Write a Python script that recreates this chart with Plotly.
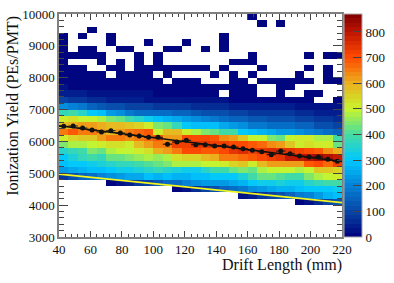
import plotly.graph_objects as go

# Bin layout
bin_width_x = 6
bin_height_y = 200
x_first_centre = 43
y_first_centre = 3100

# Counts per row, listed from the top row (9800-10000) downward; 0 = empty bin
r00 = [0,0,0,0,0,0,0,0,0,0,0,0,0,0,0,0,0,0,0,0,3,0,0,0,0,0,0,0,0,0]
r01 = [0,0,0,0,0,0,0,0,0,0,0,0,0,0,0,0,0,0,0,0,0,3,0,3,0,0,0,0,0,0]
r02 = [0,0,0,3,0,0,0,0,0,0,0,0,0,0,0,0,0,0,0,0,0,0,0,0,0,0,0,0,0,0]
r03 = [3,0,3,0,0,3,0,0,0,0,0,0,0,0,0,0,0,3,0,0,0,0,0,0,0,0,0,0,0,0]
r04 = [3,0,0,0,0,3,0,0,0,3,0,0,0,3,0,0,0,3,0,0,0,0,0,0,0,0,0,0,0,0]
r05 = [3,0,3,3,0,0,3,3,0,0,0,3,3,0,0,3,0,3,0,0,0,0,0,0,0,0,0,0,0,0]
r06 = [3,3,3,3,3,0,0,0,3,0,3,0,0,0,0,0,0,0,0,0,3,0,0,0,0,0,3,0,3,3]
r07 = [3,0,0,0,3,0,3,0,3,0,3,0,0,0,0,0,0,0,3,3,3,0,0,0,0,0,0,0,0,0]
r08 = [3,3,3,0,0,3,3,0,3,3,3,3,3,3,3,3,0,3,0,0,0,3,0,0,0,0,3,0,3,0]
r09 = [5,5,5,4,4,0,4,4,4,4,0,3,0,0,0,0,3,0,3,0,3,0,0,0,0,3,0,0,3,0]
r10 = [8,7,6,6,5,5,5,4,4,4,4,0,3,3,3,0,0,0,3,3,0,3,3,3,3,3,3,0,3,3]
r11 = [18,16,15,14,12,11,10,9,8,8,7,7,6,6,6,5,5,5,4,4,4,0,0,3,3,0,0,0,0,0]
r12 = [45,40,35,32,28,25,24,22,20,18,17,16,15,14,12,11,10,0,8,7,6,0,0,5,0,0,4,4,0,0]
r13 = [90,85,75,65,58,52,48,42,38,34,32,30,28,26,24,22,20,18,16,15,14,13,12,11,10,9,8,0,0,6]
r14 = [225,205,175,150,135,120,110,100,95,88,82,80,75,70,65,62,58,55,52,50,45,44,40,38,35,32,30,26,24,20]
r15 = [370,390,360,300,290,230,210,190,170,160,170,160,150,140,130,120,118,110,100,90,85,85,80,80,75,65,60,50,45,40]
r16 = [520,530,500,490,470,450,430,400,350,330,290,270,260,230,220,200,190,170,150,140,130,130,120,120,110,100,90,80,70,60]
r17 = [590,600,610,610,600,590,590,560,540,510,440,420,380,310,290,290,280,260,240,210,180,180,170,170,160,150,140,120,120,100]
r18 = [650,680,660,650,620,590,620,650,670,680,520,590,590,510,480,440,420,400,400,300,290,270,250,230,230,210,200,180,170,150]
r19 = [520,540,560,570,610,650,650,640,660,670,680,610,620,710,700,710,690,640,620,570,500,500,440,430,490,520,520,480,470,390]
r20 = [450,470,480,500,520,530,530,520,590,610,650,660,720,730,740,740,730,720,710,710,680,670,640,620,570,520,530,520,510,430]
r21 = [360,380,400,450,430,480,490,500,520,530,600,620,660,700,710,690,680,700,740,750,730,740,750,740,740,730,700,680,640,600]
r22 = [300,340,370,390,380,430,430,450,460,470,460,480,530,540,550,590,600,650,650,670,690,710,720,740,790,800,810,820,810,800]
r23 = [280,300,310,320,340,360,370,380,390,410,430,440,470,470,480,490,500,520,540,560,510,580,610,620,610,620,690,700,670,720]
r24 = [230,250,270,280,290,310,320,320,340,350,370,350,340,320,330,360,390,390,420,440,430,470,490,500,490,470,500,560,560,540]
r25 = [70,120,140,170,200,220,240,250,260,280,270,280,270,270,280,290,300,300,310,340,400,420,420,410,400,400,450,470,500,510]
r26 = [0,0,0,0,0,10,30,50,70,100,130,160,170,200,220,240,240,240,250,270,310,330,330,340,320,320,360,380,400,400]
r27 = [0,0,0,0,0,0,0,0,0,0,0,0,10,30,60,90,120,140,170,190,220,230,250,270,270,280,310,300,300,320]
r28 = [0,0,0,0,0,0,0,0,0,0,0,0,0,0,0,0,0,0,0,20,40,70,90,110,140,180,200,230,270,290]
r29 = [0,0,0,0,0,0,0,0,0,0,0,0,0,0,0,0,0,0,0,0,0,0,0,0,0,10,30,60,90,130]
r30 = [0]*30
r31 = [0]*30
r32 = [0]*30
r33 = [0]*30
r34 = [0]*30

rows_top_down = [r00,r01,r02,r03,r04,r05,r06,r07,r08,r09,r10,r11,r12,r13,r14,r15,r16,
                 r17,r18,r19,r20,r21,r22,r23,r24,r25,r26,r27,r28,r29,r30,r31,r32,r33,r34]

# Profile points at the bin centres
profile_x = [43,49,55,61,67,73,79,85,91,97,103,109,115,121,127,133,139,145,151,157,163,169,175,181,187,193,199,205,211,217]
profile_y = [6474,6483,6420,6358,6295,6336,6264,6201,6170,6129,6129,5914,5981,6034,5897,5897,5855,5855,5824,5770,
             5720,5677,5583,5699,5614,5541,5510,5510,5438,5375]
profile_xerr = [3]*30
profile_yerr = [25,20,20,18,18,18,18,18,18,18,18,22,18,18,18,18,18,18,18,18,18,18,25,22,18,18,18,18,18,18]

fit_x = [40, 220]
fit_y = [6490, 5370]
cut_x = [40, 220]
cut_y = [4975, 4080]

z_max = 870
colour_stops = [(0,(0,0,125)),(100,(8,70,165)),(200,(5,130,215)),(300,(0,200,255)),(400,(70,220,160)),
                (500,(200,245,45)),(600,(235,175,30)),(700,(255,75,0)),(800,(190,20,0)),(870,(125,0,0))]

def colour_at(v):
    for (a, ca), (b, cb) in zip(colour_stops, colour_stops[1:]):
        if a <= v <= b:
            t = (v - a) / (b - a)
            return "rgb(%d,%d,%d)" % tuple(round(p + (q - p) * t) for p, q in zip(ca, cb))
    return "rgb(125,0,0)"

n_levels = 50
colorscale = []
for i in range(n_levels):
    c = colour_at((i + 0.5) * z_max / n_levels)
    colorscale.append([i / n_levels, c])
    colorscale.append([(i + 1) / n_levels, c])

z = [[(v if v > 0 else None) for v in row] for row in reversed(rows_top_down)]

serif = "Liberation Serif"
frame = "#7f7f7f"
tickc = "#444444"

fig = go.Figure()
fig.add_trace(go.Heatmap(
    z=z, x0=x_first_centre, dx=bin_width_x, y0=y_first_centre, dy=bin_height_y,
    zmin=0, zmax=z_max, colorscale=colorscale, hoverongaps=False,
    colorbar=dict(x=1.007, xanchor="left", xpad=0, y=0.5, yanchor="middle", len=1, lenmode="fraction",
                  ypad=0, thickness=18, thicknessmode="pixels", outlinewidth=1, outlinecolor="#aaaaaa",
                  ticks="inside", ticklen=9, tickwidth=1, tickcolor=tickc, tick0=0, dtick=100,
                  tickfont=dict(family=serif, size=13, color="#111111")),
))
fig.add_trace(go.Scatter(x=cut_x, y=cut_y, mode="lines", line=dict(color="#f5f51e", width=1.8), showlegend=False))
fig.add_trace(go.Scatter(x=fit_x, y=fit_y, mode="lines", line=dict(color="#111111", width=1.5), showlegend=False))
fig.add_trace(go.Scatter(x=profile_x, y=profile_y, mode="markers",
                         marker=dict(color="#111111", size=5),
                         error_x=dict(type="data", array=profile_xerr, color="#111111", thickness=1, width=0),
                         error_y=dict(type="data", array=profile_yerr, color="#111111", thickness=1, width=0),
                         showlegend=False))

fig.update_xaxes(range=[40, 220], tick0=40, dtick=20, ticks="inside", ticklen=6, tickwidth=1, tickcolor=tickc,
                 minor=dict(dtick=4, ticks="inside", ticklen=3, tickwidth=1, tickcolor=tickc),
                 showgrid=False, zeroline=False, showline=True, linecolor=frame, linewidth=1.5, mirror="ticks",
                 tickformat="d", tickfont=dict(family=serif, size=13, color="#111111"))
fig.update_yaxes(range=[3000, 10000], tick0=3000, dtick=1000, ticks="inside", ticklen=9, tickwidth=1, tickcolor=tickc,
                 minor=dict(dtick=200, ticks="inside", ticklen=5, tickwidth=1, tickcolor=tickc),
                 showgrid=False, zeroline=False, showline=True, linecolor=frame, linewidth=1.5, mirror="ticks",
                 tickformat="d", tickfont=dict(family=serif, size=13, color="#111111"))

fig.update_layout(
    width=394, height=283, margin=dict(l=59, r=52, t=14, b=46, pad=0, autoexpand=False),
    paper_bgcolor="white", plot_bgcolor="white", showlegend=False,
    annotations=[
        dict(text="Drift Length (mm)", xref="paper", yref="paper", x=1.008, y=-0.125, xanchor="right", yanchor="middle",
             showarrow=False, font=dict(family=serif, size=16, color="#111111")),
        dict(text="Ionization Yield (PEs/PMT)", xref="paper", yref="paper", x=-0.163, y=1.0, xanchor="center", yanchor="top",
             textangle=-90, showarrow=False, font=dict(family=serif, size=16, color="#111111")),
    ],
)
fig.write_html("out.html", config=dict(displayModeBar=False),
               post_script="document.body.style.margin='0';document.documentElement.style.overflow='hidden';")
